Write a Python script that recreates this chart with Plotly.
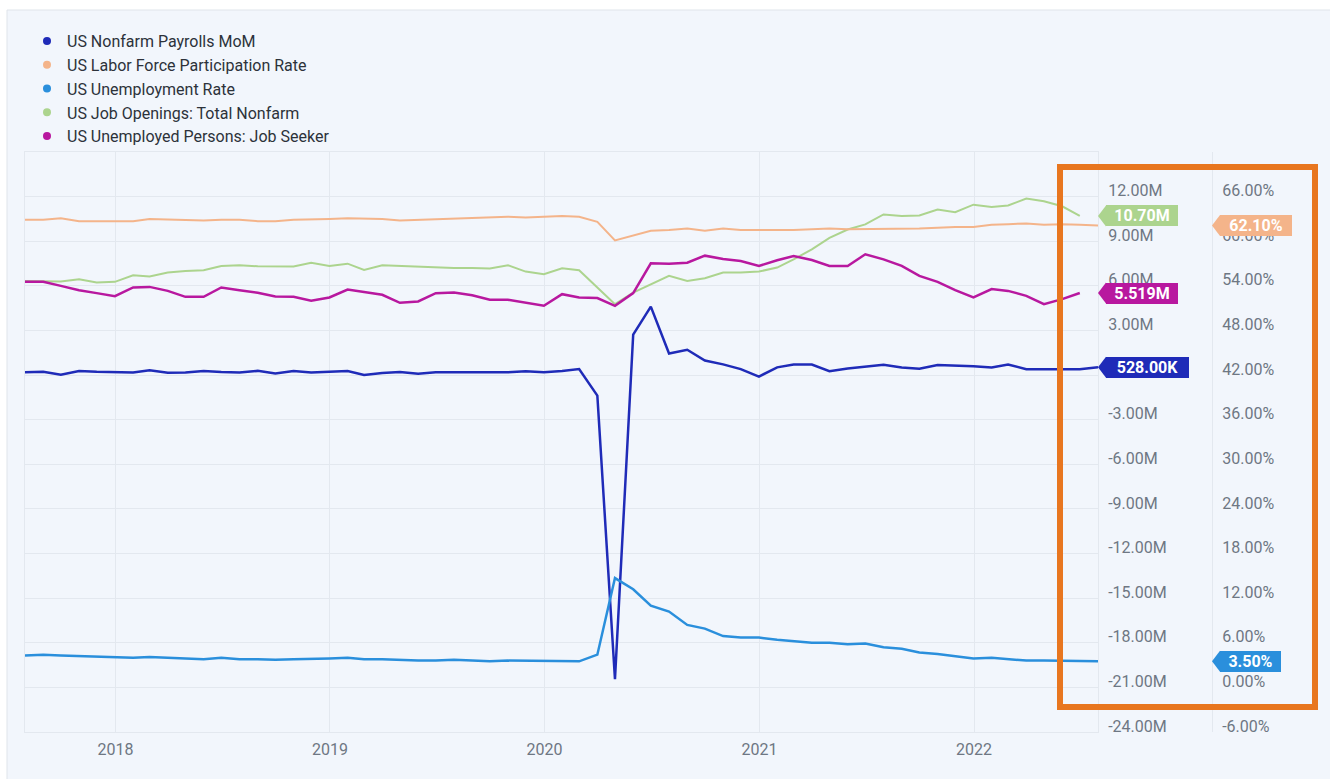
import pandas as pd
import plotly.graph_objects as go

# ---------------- data ----------------
dates = pd.date_range("2017-07-31", periods=61, freq=pd.offsets.MonthEnd())

payrolls_m = [0.19, 0.221, 0.018, 0.271, 0.216, 0.175,
              0.176, 0.324, 0.155, 0.175, 0.268, 0.208, 0.178, 0.282, 0.108, 0.277, 0.176, 0.227,
              0.268, 0.001, 0.147, 0.210, 0.085, 0.182, 0.194, 0.207, 0.208, 0.185, 0.261, 0.184,
              0.28, 0.40, -1.38, -20.45, 2.72, 4.60, 1.45, 1.70, 0.98, 0.72, 0.40, -0.10,
              0.52, 0.71, 0.704, 0.263, 0.447, 0.557, 0.689, 0.517, 0.424, 0.677, 0.647, 0.588,
              0.504, 0.714, 0.398, 0.368, 0.386, 0.398, 0.528]

lfpr_pct = [62.9, 62.9, 63.1, 62.7, 62.7, 62.7,
            62.7, 63.0, 62.9, 62.8, 62.8, 62.9, 62.9, 62.7, 62.7, 62.9, 62.9, 63.0,
            63.1, 63.1, 63.0, 62.8, 62.9, 63.0, 63.1, 63.2, 63.2, 63.3, 63.2, 63.3,
            63.4, 63.3, 62.6, 60.1, 60.8, 61.4, 61.5, 61.7, 61.4, 61.7, 61.5, 61.5,
            61.4, 61.5, 61.6, 61.7, 61.6, 61.6, 61.7, 61.7, 61.7, 61.8, 61.9, 61.9,
            62.2, 62.3, 62.4, 62.2, 62.3, 62.2, 62.1]

unemp_pct = [4.3, 4.4, 4.3, 4.2, 4.2, 4.1,
             4.0, 4.1, 4.0, 4.0, 3.8, 4.0, 3.8, 3.8, 3.7, 3.8, 3.8, 3.9,
             4.0, 3.8, 3.8, 3.7, 3.6, 3.6, 3.7, 3.6, 3.5, 3.6, 3.6, 3.6,
             3.5, 3.5, 4.4, 14.7, 13.2, 11.0, 10.2, 8.4, 7.9, 6.9, 6.7, 6.7,
             6.4, 6.2, 6.0, 6.0, 5.8, 5.9, 5.4, 5.2, 4.7, 4.5, 4.2, 3.9,
             4.0, 3.8, 3.6, 3.6, 3.6, 3.6, 3.5]

openings_m = [6.33, 6.33, 6.29, 6.45, 6.22, 6.27,
              6.71, 6.63, 6.89, 7.0, 7.05, 7.34, 7.38, 7.32, 7.29, 7.30, 7.56, 7.34,
              7.49, 7.07, 7.38, 7.34, 7.32, 7.23, 7.20, 7.20, 7.16, 7.38, 6.96, 6.78,
              7.18, 7.05, 5.89, 4.77, 5.55, 6.11, 6.67, 6.33, 6.51, 6.89, 6.89, 6.96,
              7.23, 7.78, 8.45, 9.23, 9.79, 10.13, 10.8, 10.69, 10.73, 11.13, 10.95, 11.46,
              11.31, 11.4, 11.87, 11.69, 11.35, 10.70]

seekers_m = [6.27, 6.27, 6.0, 5.71, 5.51, 5.31,
             5.89, 5.93, 5.66, 5.26, 5.26, 5.89, 5.71, 5.53, 5.29, 5.26, 5.0, 5.22,
             5.75, 5.60, 5.40, 4.86, 4.95, 5.51, 5.55, 5.37, 5.06, 5.06, 4.84, 4.66,
             5.44, 5.22, 5.18, 4.66, 5.51, 7.52, 7.49, 7.56, 8.03, 7.81, 7.67, 7.34,
             7.72, 8.0, 7.74, 7.34, 7.34, 8.12, 7.78, 7.34, 6.67, 6.27, 5.71, 5.22,
             5.78, 5.66, 5.33, 4.77, 5.11, 5.519]

names = ["US Nonfarm Payrolls MoM", "US Labor Force Participation Rate",
         "US Unemployment Rate", "US Job Openings: Total Nonfarm",
         "US Unemployed Persons: Job Seeker"]
tags = ["528.00K", "62.10%", "3.50%", "10.70M", "5.519M"]

left_ticks = list(range(-24, 13, 3))
right_ticks = list(range(-6, 67, 6))
year_ticks = ["2018-01-01", "2019-01-01", "2020-01-01", "2021-01-01", "2022-01-01"]

# ---------------- style ----------------
C_PAY = "#1f2bb8"
C_LFPR = "#f4b48a"
C_UNEMP = "#2a8fdc"
C_OPEN = "#acd48e"
C_SEEK = "#b8189f"
BG = "#f2f6fc"
GRID = "#e3e8ef"
TICK = "#6e7783"
FONT = "Roboto"

W, H = 1330, 779
ML, MT, MB, MR = 25, 152, 47, 20
PW, PH = W - ML - MR, H - MT - MB


def px(x):
    return (x - ML) / PW


def py(y):
    return 1 - (y - MT) / PH


fig = go.Figure()

series = [
    (names[3], openings_m, "y", C_OPEN, 2),
    (names[1], lfpr_pct, "y2", C_LFPR, 2),
    (names[4], seekers_m, "y", C_SEEK, 2.5),
    (names[2], unemp_pct, "y2", C_UNEMP, 2.5),
    (names[0], payrolls_m, "y", C_PAY, 2.5),
]
for nm, vals, ax, col, w in series:
    fig.add_trace(go.Scatter(x=dates[:len(vals)], y=vals, yaxis=ax, mode="lines",
                             line=dict(color=col, width=w), name=nm, showlegend=False))

# legend entries (dots)
for nm, col in zip(names, [C_PAY, C_LFPR, C_UNEMP, C_OPEN, C_SEEK]):
    fig.add_trace(go.Scatter(x=[None], y=[None], mode="markers", name=nm,
                             marker=dict(color=col, size=8), showlegend=True))

shapes = []
# white outer strips
shapes.append(dict(type="rect", xref="paper", yref="paper", x0=px(0), x1=px(7), y0=py(H), y1=py(0),
                   fillcolor="white", line=dict(width=0), layer="below"))
shapes.append(dict(type="rect", xref="paper", yref="paper", x0=px(0), x1=px(W), y0=py(10), y1=py(0),
                   fillcolor="white", line=dict(width=0), layer="below"))
shapes.append(dict(type="path", xref="paper", yref="paper",
                   path=f"M{px(7)},{py(H)} L{px(7)},{py(10)} L{px(W)},{py(10)}",
                   line=dict(color="#dfe4ea", width=1), layer="below"))

annotations = []
tag_specs = [
    (payrolls_m[-1], "y", px(1098), C_PAY, tags[0]),
    (openings_m[-1], "y", px(1098), C_OPEN, tags[3]),
    (seekers_m[-1], "y", px(1098), C_SEEK, tags[4]),
    (lfpr_pct[-1], "y2", px(1212), C_LFPR, tags[1]),
    (unemp_pct[-1], "y2", px(1212), C_UNEMP, tags[2]),
]
for val, ax, xa, col, txt in tag_specs:
    shapes.append(dict(type="path", xref="paper", yref=ax, xsizemode="pixel", ysizemode="pixel",
                       xanchor=xa, yanchor=val, path="M0,0 L8,10.5 L8,-10.5 Z",
                       fillcolor=col, line=dict(width=0), layer="above"))
    annotations.append(dict(x=xa, xref="paper", y=val, yref=ax, xanchor="left", xshift=7.5,
                            text=f"<b>{txt}</b>", showarrow=False, bgcolor=col,
                            borderwidth=0, borderpad=0, width=11 * len(txt) + 6, height=21,
                            align="center", valign="middle",
                            font=dict(family=FONT, size=16, color="white")))

# orange highlight box
shapes.append(dict(type="rect", xref="paper", yref="paper", x0=px(1060), x1=px(1315),
                   y0=py(707), y1=py(167), line=dict(color="#e8761f", width=6),
                   fillcolor="rgba(0,0,0,0)", layer="above"))

fig.update_layout(
    width=W, height=H,
    margin=dict(l=ML, r=MR, t=MT, b=MB, pad=0),
    paper_bgcolor=BG, plot_bgcolor=BG,
    font=dict(family=FONT, color=TICK),
    showlegend=True,
    legend=dict(x=px(27), y=py(24), xanchor="left", yanchor="top",
                bgcolor="rgba(0,0,0,0)", itemwidth=30,
                font=dict(family=FONT, size=16, color="#2c323a")),
    xaxis=dict(type="date", domain=[0, px(1098)], range=[dates[0], dates[-1]],
               tickvals=year_ticks, tickformat="%Y", showgrid=True, gridcolor=GRID,
               gridwidth=1, showline=True, linecolor=GRID, mirror=True, ticks="",
               tickfont=dict(size=16, color=TICK), zeroline=False, ticklabelstandoff=3),
    yaxis=dict(side="right", range=[-24, 15], tickvals=left_ticks,
               ticktext=[f"{v:.2f}M" for v in left_ticks], showgrid=True, gridcolor=GRID,
               showline=True, linecolor=GRID, mirror=True, zeroline=False, ticks="",
               ticklabelposition="outside", ticklabelstandoff=6, ticklabelshift=-6,
               tickfont=dict(size=16, color=TICK)),
    yaxis2=dict(overlaying="y", anchor="free", position=px(1212), side="right",
                range=[-6, 72], tickvals=right_ticks,
                ticktext=[f"{v:.2f}%" for v in right_ticks], showgrid=False,
                showline=True, linecolor=GRID, zeroline=False, ticks="",
                ticklabelposition="outside", ticklabelstandoff=6, ticklabelshift=-6,
                tickfont=dict(size=16, color=TICK)),
    shapes=shapes,
    annotations=annotations,
)

fig.write_html("out.html")
